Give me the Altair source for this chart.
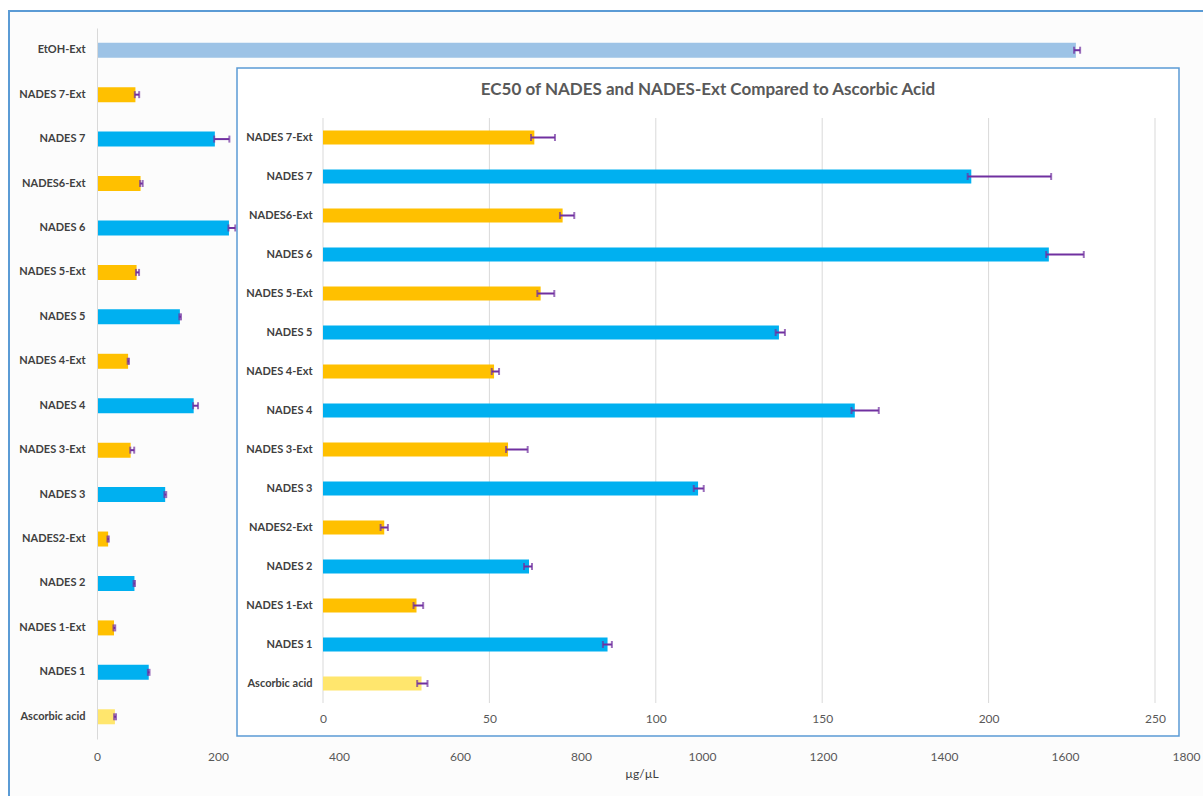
import altair as alt
import pandas as pd

# ---------------- data ----------------
categories = ["EtOH-Ext", "NADES 7-Ext", "NADES 7", "NADES6-Ext", "NADES 6",
              "NADES 5-Ext", "NADES 5", "NADES 4-Ext", "NADES 4", "NADES 3-Ext",
              "NADES 3", "NADES2-Ext", "NADES 2", "NADES 1-Ext", "NADES 1",
              "Ascorbic acid"]
values = [1618, 63.5, 194.8, 72.0, 218.1, 65.4, 137.0, 51.4, 159.8, 55.6,
          112.7, 18.4, 61.9, 28.1, 85.5, 29.6]
err_low = [1615, 62.5, 193.7, 71.2, 217.3, 64.4, 136.0, 50.7, 158.8, 55.0,
           111.4, 17.3, 60.4, 27.2, 84.1, 28.3]
err_high = [1625, 69.7, 218.8, 75.5, 228.6, 69.5, 138.8, 52.9, 167.0, 61.5,
            114.4, 19.5, 62.8, 30.1, 86.8, 31.4]
kinds = ["EtOH", "Ext", "NADES", "Ext", "NADES", "Ext", "NADES", "Ext", "NADES",
         "Ext", "NADES", "Ext", "NADES", "Ext", "NADES", "Reference"]

kind_domain = ["EtOH", "Ext", "NADES", "Reference"]
kind_colors = ["#9DC3E6", "#FFC000", "#00B0F0", "#FFE66D"]

outer_ticks = [0, 200, 400, 600, 800, 1000, 1200, 1400, 1600, 1800]
inset_ticks = [0, 50, 100, 150, 200, 250]
inset_title = "EC50 of NADES and NADES-Ext Compared to Ascorbic Acid"
x_title = "µg/µL"

df = pd.DataFrame({"category": categories, "value": values, "lo": err_low,
                   "hi": err_high, "kind": kinds})
inset_cats = categories[1:]
inset_df = df[df["category"] != "EtOH-Ext"].reset_index(drop=True)

# ---------------- layout ----------------
W, H = 1089, 711
FONT = "Lato"
ERR = "#7030A0"
GRID = "#D9D9D9"
BORDER = "#5B9BD5"

color = alt.Color("kind:N", scale=alt.Scale(domain=kind_domain, range=kind_colors), legend=None)

# ---------- outer chart ----------
xo = alt.Scale(domain=[0, 1800], range=[0, W], nice=False)
yo = alt.Scale(domain=categories, paddingInner=0, paddingOuter=0)
ax_xo = alt.Axis(orient="bottom", values=outer_ticks, format="d", labelFlush=False,
                 grid=False, domain=False,
                 ticks=False, labelFont=FONT, labelFontSize=12, labelColor="#595959",
                 labelPadding=12, title=x_title, titleFont=FONT, titleFontSize=12,
                 titleFontWeight="normal", titleColor="#404040", titlePadding=6,
                 zindex=1)
ax_yo = alt.Axis(orient="left", title=None, domain=True, domainColor=GRID,
                 ticks=False, labelFont=FONT, labelFontSize=11,
                 labelFontWeight="bold", labelColor="#404040", labelPadding=12,
                 grid=False, zindex=1)

frame = alt.Chart(pd.DataFrame({"a": [0]})).mark_rect(
    fill="#FCFCFC", stroke=BORDER, strokeWidth=2
).encode(x=alt.value(-88), x2=alt.value(W + 60), y=alt.value(-17), y2=alt.value(H + 90))

outer_bars = alt.Chart(df).mark_bar(size=15).encode(
    x=alt.X("value:Q", scale=xo, axis=ax_xo),
    y=alt.Y("category:N", scale=yo, axis=ax_yo),
    color=color,
)
outer_err = alt.Chart(df).mark_rule(color=ERR, strokeWidth=2).encode(
    x=alt.X("lo:Q", scale=xo, axis=ax_xo), x2="hi:Q",
    y=alt.Y("category:N", scale=yo, axis=ax_yo))
outer_cap_lo = alt.Chart(df).mark_tick(color=ERR, thickness=2, size=7).encode(
    x=alt.X("lo:Q", scale=xo, axis=ax_xo), y=alt.Y("category:N", scale=yo, axis=ax_yo))
outer_cap_hi = alt.Chart(df).mark_tick(color=ERR, thickness=2, size=7).encode(
    x=alt.X("hi:Q", scale=xo, axis=ax_xo), y=alt.Y("category:N", scale=yo, axis=ax_yo))

outer = alt.layer(frame, outer_bars, outer_err, outer_cap_lo, outer_cap_hi)

# ---------- inset chart ----------
xi = alt.Scale(domain=[0, 250], range=[226, 1058], nice=False)
yi = alt.Scale(domain=inset_cats, range=[90, 675], paddingInner=0, paddingOuter=0)
ax_xi = alt.Axis(orient="bottom", offset=-36, values=inset_ticks, format="d",
                 labelFlush=False, grid=False,
                 domain=False, ticks=False, labelFont=FONT, labelFontSize=12,
                 labelColor="#595959", labelPadding=10, title=None, zindex=1)
ax_yi = alt.Axis(orient="left", offset=-226, title=None, domain=False, ticks=False,
                 labelFont=FONT, labelFontSize=11, labelFontWeight="bold",
                 labelColor="#404040", labelPadding=11, grid=False, zindex=1)

box = alt.Chart(pd.DataFrame({"a": [0]})).mark_rect(
    fill="white", stroke=BORDER, strokeWidth=1.5
).encode(x=alt.value(140), x2=alt.value(1082), y=alt.value(40), y2=alt.value(708))

grid = alt.Chart(pd.DataFrame({"t": inset_ticks})).mark_rule(color=GRID, strokeWidth=1).encode(
    x=alt.X("t:Q", scale=xi, axis=ax_xi),
    y=alt.value(90), y2=alt.value(675))

inset_bars = alt.Chart(inset_df).mark_bar(size=14).encode(
    x=alt.X("value:Q", scale=xi, axis=ax_xi),
    y=alt.Y("category:N", scale=yi, axis=ax_yi),
    color=color,
)
inset_err = alt.Chart(inset_df).mark_rule(color=ERR, strokeWidth=2).encode(
    x=alt.X("lo:Q", scale=xi, axis=ax_xi), x2="hi:Q",
    y=alt.Y("category:N", scale=yi, axis=ax_yi))
inset_cap_lo = alt.Chart(inset_df).mark_tick(color=ERR, thickness=2, size=7).encode(
    x=alt.X("lo:Q", scale=xi, axis=ax_xi), y=alt.Y("category:N", scale=yi, axis=ax_yi))
inset_cap_hi = alt.Chart(inset_df).mark_tick(color=ERR, thickness=2, size=7).encode(
    x=alt.X("hi:Q", scale=xi, axis=ax_xi), y=alt.Y("category:N", scale=yi, axis=ax_yi))

title = alt.Chart(pd.DataFrame({"t": [inset_title]})).mark_text(
    font=FONT, fontSize=17, fontWeight="bold", color="#595959", align="center",
    baseline="middle"
).encode(text="t:N", x=alt.value(611), y=alt.value(62))

inset = alt.layer(box, grid, inset_bars, inset_err, inset_cap_lo, inset_cap_hi, title)

chart = alt.layer(outer, inset).resolve_scale(
    x="independent", y="independent"
).resolve_axis(
    x="independent", y="independent"
).properties(
    width=W, height=H,
    padding={"left": 97, "top": 28, "right": 17, "bottom": 57},
    autosize=alt.AutoSizeParams(type="none"),
    background="white",
).configure_view(stroke=None)

chart.save("out.html", embed_options={"renderer": "svg", "actions": False})
